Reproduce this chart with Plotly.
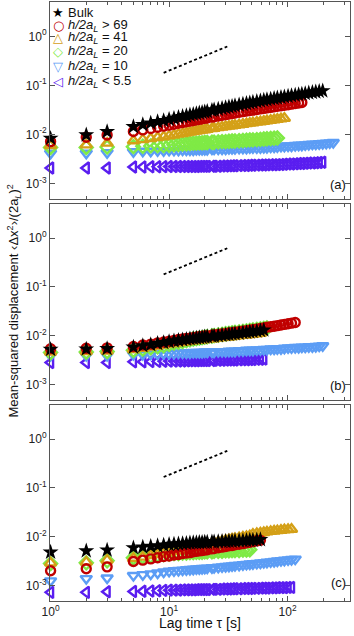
import plotly.graph_objects as go

# Lag times [s] shared by all series (each series uses the first len(values) lags)
LAGS = [1, 2, 3, 5, 6, 7, 8, 9, 10, 11, 12, 13, 14, 15, 16, 17, 18, 19, 20, 21, 23, 24, 26, 28, 30,
        32, 34, 36, 39, 42, 45, 48, 51, 55, 59, 63, 67, 72, 77, 82, 88, 94, 101, 108, 116, 124,
        132, 141, 151, 162, 173, 185, 198, 212, 227, 243]

SERIES_NAMES = ["Bulk", "h/2a_L > 69", "h/2a_L = 41", "h/2a_L = 20", "h/2a_L = 10", "h/2a_L < 5.5"]

# ---- panel (a)
A_BULK = [0.0083, 0.0097, 0.0113, 0.0143, 0.0157, 0.0170, 0.0181, 0.0191, 0.0202, 0.0212,
          0.0222, 0.0231, 0.0240, 0.0248, 0.0256, 0.0264, 0.0272, 0.0279, 0.0286, 0.0293,
          0.0307, 0.0314, 0.0327, 0.0339, 0.0351, 0.0362, 0.0373, 0.0384, 0.0398, 0.0413,
          0.0426, 0.0439, 0.0451, 0.0467, 0.0482, 0.0496, 0.0510, 0.0525, 0.0539, 0.0553,
          0.0568, 0.0583, 0.0599, 0.0615, 0.0632, 0.0648, 0.0663, 0.0679, 0.0697, 0.0716,
          0.0733, 0.0751, 0.0770]
A_RED = [0.0071, 0.0087, 0.0097, 0.0114, 0.0123, 0.0131, 0.0139, 0.0147, 0.0154, 0.0161,
         0.0168, 0.0174, 0.0180, 0.0186, 0.0192, 0.0197, 0.0202, 0.0207, 0.0212, 0.0216,
         0.0225, 0.0229, 0.0237, 0.0245, 0.0252, 0.0259, 0.0266, 0.0272, 0.0281, 0.0290,
         0.0298, 0.0305, 0.0312, 0.0321, 0.0330, 0.0338, 0.0346, 0.0355, 0.0364, 0.0373,
         0.0382, 0.0392, 0.0402, 0.0413, 0.0424, 0.0435, 0.0446]
A_GOLD = [0.0059, 0.0061, 0.0066, 0.0074, 0.0078, 0.0082, 0.0086, 0.0089, 0.0093, 0.0097,
          0.0101, 0.0104, 0.0108, 0.0111, 0.0114, 0.0117, 0.0120, 0.0122, 0.0124, 0.0127,
          0.0131, 0.0133, 0.0137, 0.0141, 0.0144, 0.0147, 0.0150, 0.0153, 0.0157, 0.0161,
          0.0165, 0.0169, 0.0172, 0.0177, 0.0181, 0.0185, 0.0189, 0.0194, 0.0198, 0.0203,
          0.0208, 0.0213]
A_GREEN = [0.0054, 0.0054, 0.0055, 0.0056, 0.0057, 0.0058, 0.0059, 0.0059, 0.0060, 0.0061,
           0.0062, 0.0063, 0.0064, 0.0065, 0.0066, 0.0066, 0.0067, 0.0067, 0.0068, 0.0068,
           0.0069, 0.0069, 0.0070, 0.0071, 0.0071, 0.0072, 0.0073, 0.0073, 0.0074, 0.0075,
           0.0076, 0.0077, 0.0077, 0.0078, 0.0079, 0.0080, 0.0081, 0.0082, 0.0083, 0.0084]
A_BLUE = [0.0041, 0.0041, 0.0042, 0.0044, 0.0045, 0.0045, 0.0046, 0.0046, 0.0047, 0.0047,
          0.0047, 0.0048, 0.0048, 0.0048, 0.0048, 0.0049, 0.0049, 0.0049, 0.0049, 0.0049,
          0.0050, 0.0050, 0.0050, 0.0050, 0.0050, 0.0051, 0.0051, 0.0051, 0.0052, 0.0052,
          0.0052, 0.0053, 0.0053, 0.0053, 0.0053, 0.0054, 0.0054, 0.0055, 0.0055, 0.0056,
          0.0057, 0.0057, 0.0058, 0.0058, 0.0059, 0.0060, 0.0060, 0.0061, 0.0062, 0.0063,
          0.0063, 0.0064, 0.0065, 0.0066, 0.0067, 0.0068]
A_PURPLE = [0.00205, 0.00205, 0.00205, 0.00215, 0.00216, 0.00217, 0.00218, 0.00219, 0.00220, 0.00220,
            0.00220, 0.00220, 0.00221, 0.00221, 0.00221, 0.00221, 0.00222, 0.00222, 0.00222, 0.00222,
            0.00223, 0.00223, 0.00224, 0.00225, 0.00226, 0.00227, 0.00228, 0.00229, 0.00230, 0.00231,
            0.00232, 0.00233, 0.00234, 0.00235, 0.00236, 0.00237, 0.00238, 0.00239, 0.00240, 0.00241,
            0.00243, 0.00245, 0.00247, 0.00249, 0.00251, 0.00253, 0.00255, 0.00257, 0.00259, 0.00261,
            0.00263, 0.00266, 0.00269]

# ---- panel (b)
B_BULK = [0.0052, 0.0053, 0.0054, 0.0058, 0.0062, 0.0065, 0.0069, 0.0072, 0.0075, 0.0078,
          0.0080, 0.0082, 0.0084, 0.0086, 0.0088, 0.0089, 0.0091, 0.0092, 0.0094, 0.0095,
          0.0097, 0.0098, 0.0100, 0.0102, 0.0104, 0.0106, 0.0108, 0.0110, 0.0112, 0.0115,
          0.0117, 0.0119, 0.0122, 0.0124, 0.0127, 0.0130]
B_RED = [0.0054, 0.0055, 0.0056, 0.0060, 0.0064, 0.0067, 0.0071, 0.0074, 0.0077, 0.0080,
         0.0083, 0.0085, 0.0087, 0.0089, 0.0091, 0.0093, 0.0095, 0.0096, 0.0098, 0.0099,
         0.0102, 0.0103, 0.0106, 0.0108, 0.0110, 0.0113, 0.0115, 0.0117, 0.0120, 0.0123,
         0.0126, 0.0129, 0.0132, 0.0136, 0.0140, 0.0144, 0.0148, 0.0152, 0.0156, 0.0160,
         0.0165, 0.0170, 0.0175, 0.0180, 0.0186]
B_GOLD = [0.0046, 0.0047, 0.0048, 0.0052, 0.0055, 0.0058, 0.0061, 0.0064, 0.0067, 0.0069,
          0.0071, 0.0073, 0.0075, 0.0077, 0.0078, 0.0080, 0.0081, 0.0082, 0.0083, 0.0084,
          0.0086, 0.0087, 0.0089, 0.0091, 0.0093, 0.0094, 0.0096, 0.0097, 0.0099, 0.0101,
          0.0103, 0.0105, 0.0107, 0.0109, 0.0111]
B_GREEN = [0.0045, 0.0046, 0.0047, 0.0050, 0.0053, 0.0056, 0.0059, 0.0062, 0.0066, 0.0070,
           0.0073, 0.0076, 0.0079, 0.0082, 0.0085, 0.0087, 0.0089, 0.0091, 0.0093, 0.0095,
           0.0098, 0.0100, 0.0103, 0.0106, 0.0109, 0.0111, 0.0114, 0.0116, 0.0119, 0.0122,
           0.0125, 0.0128, 0.0131, 0.0134, 0.0137, 0.0140, 0.0143]
B_BLUE = [0.0039, 0.0039, 0.0039, 0.0041, 0.0041, 0.0042, 0.0042, 0.0043, 0.0043, 0.0043,
          0.0044, 0.0044, 0.0044, 0.0044, 0.0045, 0.0045, 0.0045, 0.0045, 0.0046, 0.0046,
          0.0046, 0.0046, 0.0047, 0.0047, 0.0047, 0.0048, 0.0048, 0.0048, 0.0049, 0.0049,
          0.0050, 0.0050, 0.0050, 0.0051, 0.0051, 0.0052, 0.0052, 0.0053, 0.0053, 0.0054,
          0.0054, 0.0055, 0.0056, 0.0056, 0.0057, 0.0057, 0.0058, 0.0058, 0.0059, 0.0059,
          0.0060, 0.0061, 0.0062]
B_PURPLE = [0.0028, 0.0028, 0.0028, 0.0029, 0.00292, 0.00294, 0.00296, 0.00298, 0.0030, 0.0030,
            0.00301, 0.00302, 0.00303, 0.00304, 0.00305, 0.00306, 0.00307, 0.00308, 0.00309, 0.0031,
            0.0031, 0.00311, 0.00312, 0.00313, 0.00314, 0.00315, 0.00316, 0.00317, 0.00318, 0.0032,
            0.00321, 0.00322, 0.00324, 0.00326, 0.00328, 0.0033]

# ---- panel (c)
C_BULK = [0.0048, 0.0051, 0.0053, 0.0059, 0.0061, 0.0063, 0.0065, 0.0067, 0.0069, 0.0070,
          0.0071, 0.0072, 0.0073, 0.0074, 0.0075, 0.0075, 0.0076, 0.0076, 0.0077, 0.0077,
          0.0078, 0.0078, 0.0079, 0.0080, 0.0080, 0.0081, 0.0081, 0.0082, 0.0083, 0.0083,
          0.0084, 0.0085, 0.0085, 0.0086, 0.0087]
C_RED = [0.0020, 0.0022, 0.0024, 0.0031, 0.0033, 0.0035, 0.0037, 0.0039, 0.0040, 0.0042,
         0.0043, 0.0045, 0.0046, 0.0047, 0.0049, 0.0050, 0.0051, 0.0052, 0.0053, 0.0054,
         0.0056, 0.0057, 0.0059, 0.0061, 0.0063, 0.0065, 0.0066, 0.0068, 0.0070, 0.0072,
         0.0075, 0.0077, 0.0079, 0.0082, 0.0084]
C_GOLD = [0.0029, 0.0030, 0.0033, 0.0036, 0.0038, 0.0041, 0.0043, 0.0045, 0.0047, 0.0050,
          0.0052, 0.0054, 0.0056, 0.0058, 0.0060, 0.0062, 0.0064, 0.0066, 0.0068, 0.0069,
          0.0073, 0.0075, 0.0078, 0.0081, 0.0084, 0.0087, 0.0090, 0.0092, 0.0095, 0.0098,
          0.0101, 0.0104, 0.0112, 0.0116, 0.0119, 0.0122, 0.0125, 0.0128, 0.0130, 0.0133,
          0.0135, 0.0138, 0.0140, 0.0142]
C_GREEN = [0.0028, 0.0029, 0.0032, 0.0037, 0.0039, 0.0040, 0.0042, 0.0043, 0.0044, 0.0045,
           0.0045, 0.0046, 0.0046, 0.0047, 0.0047, 0.0048, 0.0048, 0.0048, 0.0049, 0.0049,
           0.0049, 0.0050, 0.0050, 0.0050, 0.0051, 0.0051, 0.0052, 0.0052, 0.0052, 0.0053,
           0.0053, 0.0054]
C_BLUE = [0.00124, 0.00138, 0.00142, 0.00160, 0.00166, 0.00172, 0.00180, 0.00188, 0.00195, 0.00200,
          0.00203, 0.00206, 0.00209, 0.00212, 0.00215, 0.00218, 0.00220, 0.00222, 0.00224, 0.00226,
          0.00230, 0.00232, 0.00236, 0.00240, 0.00244, 0.00248, 0.00252, 0.00256, 0.00260, 0.00265,
          0.00270, 0.00274, 0.00278, 0.00283, 0.00288, 0.00293, 0.00298, 0.00304, 0.00310, 0.00316,
          0.00322, 0.00328, 0.00334, 0.00340, 0.00346]
C_PURPLE = [0.00072, 0.00072, 0.00074, 0.00075, 0.00076, 0.00077, 0.00078, 0.00079, 0.00080, 0.00080,
            0.00080, 0.00081, 0.00081, 0.00081, 0.00081, 0.00082, 0.00082, 0.00082, 0.00082, 0.00082,
            0.00083, 0.00083, 0.00083, 0.00084, 0.00084, 0.00084, 0.00085, 0.00085, 0.00085, 0.00086,
            0.00086, 0.00086, 0.00087, 0.00087, 0.00088, 0.00088, 0.00088, 0.00089, 0.00089, 0.00090,
            0.00090, 0.00090, 0.00091, 0.00091]

# Slope-1 guide line (dashed)
DASH_TAU = [9, 31]
DASH_A = [0.18, 0.62]
DASH_B = [0.18, 0.62]
DASH_C = [0.167, 0.575]

X_TICKS = [1, 10, 100]
X_TICKTEXT = ["10<sup>0</sup>", "10<sup>1</sup>", "10<sup>2</sup>"]
X_MINOR = [m * d for d in (1, 10, 100) for m in range(2, 10)]
Y_TICKS = [0.001, 0.01, 0.1, 1]
Y_TICKTEXT = ["10<sup>-3</sup>", "10<sup>-2</sup>", "10<sup>-1</sup>", "10<sup>0</sup>"]

PANEL_LABELS = ["(a)", "(b)", "(c)"]

STYLES = [
    dict(symbol="star", color="#000000", size=12, lw=0),
    dict(symbol="circle-open", color="#C00000", size=9, lw=2.4),
    dict(symbol="triangle-up-open", color="#D4A017", size=10, lw=2.4),
    dict(symbol="diamond-open", color="#7FEA45", size=10, lw=2.4),
    dict(symbol="triangle-down-open", color="#5C9DF5", size=10, lw=2.4),
    dict(symbol="triangle-left-open", color="#5A1EF0", size=10, lw=2.4),
]

PANELS = [
    [A_BULK, A_RED, A_GOLD, A_GREEN, A_BLUE, A_PURPLE],
    [B_BULK, B_RED, B_GOLD, B_GREEN, B_BLUE, B_PURPLE],
    [C_BULK, C_RED, C_GOLD, C_GREEN, C_BLUE, C_PURPLE],
]
DASHES = [DASH_A, DASH_B, DASH_C]

fig = go.Figure()
for p, series in enumerate(PANELS):
    xa = "x" if p == 0 else f"x{p + 1}"
    ya = "y" if p == 0 else f"y{p + 1}"
    # draw in reverse order so Bulk ends on top
    for k in reversed(range(len(series))):
        vals = series[k]
        st = STYLES[k]
        fig.add_trace(go.Scatter(
            x=LAGS[:len(vals)], y=vals, mode="markers", name=SERIES_NAMES[k],
            showlegend=False, xaxis=xa, yaxis=ya, cliponaxis=False,
            marker=dict(symbol=st["symbol"], size=st["size"], color=st["color"],
                        line=dict(color=st["color"], width=st["lw"])),
        ))
    fig.add_trace(go.Scatter(
        x=DASH_TAU, y=DASHES[p], mode="lines", showlegend=False, xaxis=xa, yaxis=ya,
        line=dict(color="black", width=1.8, dash="3px,2.5px"),
    ))

# panel domains (paper fractions)
DOMAINS = [[0.6711, 1.0], [0.3356, 0.6628], [0.0, 0.3272]]
FRAME = "#555555"
for p in range(3):
    sfx = "" if p == 0 else str(p + 1)
    fig.layout["xaxis" + sfx] = dict(
        type="log", range=[-0.005, 2.527], domain=[0, 1], anchor="y" + sfx,
        showgrid=False, zeroline=False, showline=True, linecolor=FRAME, linewidth=1,
        mirror="ticks", ticks="inside", ticklen=5, tickcolor=FRAME,
        tickmode="array", tickvals=X_TICKS, ticktext=X_TICKTEXT,
        showticklabels=(p == 2), automargin=False,
        tickfont=dict(family="Liberation Sans, Arial", size=12, color="#222"),
        minor=dict(ticks="inside", ticklen=3, tickcolor=FRAME, tickmode="array",
                   tickvals=X_MINOR, showgrid=False),
        matches=None if p == 0 else "x",
    )
    fig.layout["yaxis" + sfx] = dict(
        type="log", range=[-3.32, 0.70], domain=DOMAINS[p], anchor="x" + sfx,
        showgrid=False, zeroline=False, showline=True, linecolor=FRAME, linewidth=1,
        mirror="ticks", ticks="inside", ticklen=5, tickcolor=FRAME, automargin=False,
        tickmode="array", tickvals=Y_TICKS, ticktext=Y_TICKTEXT,
        tickfont=dict(family="Liberation Sans, Arial", size=12, color="#222"),
    )

ann = []
# panel letters
LABEL_Y = [0.696, 0.3606, 0.0306]
for p in range(3):
    ann.append(dict(xref="paper", yref="paper", x=0.96, y=LABEL_Y[p], text=PANEL_LABELS[p],
                    showarrow=False, xanchor="center", yanchor="middle",
                    font=dict(family="Liberation Sans, Arial", size=13, color="#111")))

# legend (text-based)
LEG_GLYPHS = ["★", "○", "△", "◇", "▽", "◁"]
LEG_TEXT = ["Bulk",
            "<i>h/2a</i><sub><i>L</i></sub> &gt; 69",
            "<i>h/2a</i><sub><i>L</i></sub> = 41",
            "<i>h/2a</i><sub><i>L</i></sub> = 20",
            "<i>h/2a</i><sub><i>L</i></sub> = 10",
            "<i>h/2a</i><sub><i>L</i></sub> &lt; 5.5"]
LEG_Y = [0.9821, 0.9616, 0.9404, 0.9170, 0.8920, 0.8669]
for k in range(6):
    ann.append(dict(xref="paper", yref="paper", x=0.027, y=LEG_Y[k],
                    text="<b>" + LEG_GLYPHS[k] + "</b>", showarrow=False,
                    xanchor="center", yanchor="middle",
                    font=dict(family="DejaVu Sans", size=13, color=STYLES[k]["color"])))
    ann.append(dict(xref="paper", yref="paper", x=0.053, y=LEG_Y[k], text=LEG_TEXT[k],
                    showarrow=False, xanchor="left", yanchor="middle",
                    font=dict(family="Liberation Sans, Arial", size=13, color="#111")))

# axis titles
ann.append(dict(xref="paper", yref="paper", x=0.5, y=-0.037, text="Lag time τ [s]",
                showarrow=False, xanchor="center", yanchor="middle",
                font=dict(family="Liberation Sans, Arial", size=14, color="#111")))
ann.append(dict(xref="paper", yref="paper", x=-0.123, y=0.5,
                text="Mean-squared displacement ‹Δx<sup>2</sup>›/(2a<sub><i>L</i></sub>)<sup>2</sup>",
                showarrow=False, textangle=-90, xanchor="center", yanchor="middle",
                font=dict(family="Liberation Sans, Arial", size=13, color="#111")))

fig.update_layout(
    width=354, height=636, margin=dict(l=50, r=4, t=2, b=35, autoexpand=False),
    paper_bgcolor="white", plot_bgcolor="white", showlegend=False,
    annotations=ann,
)

fig.write_html("out.html", config={"displayModeBar": False},
               post_script="document.body.style.margin='0';document.body.style.padding='0';")
